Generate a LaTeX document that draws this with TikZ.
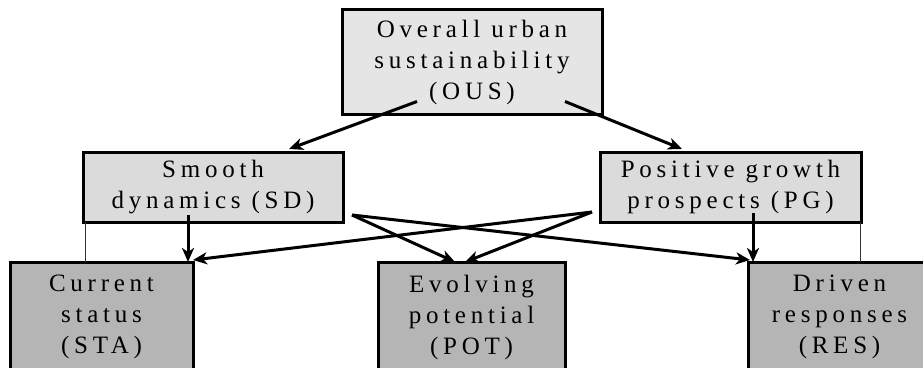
\documentclass[tikz,border=0pt]{standalone}
\usepackage{
    fontspec,
    tikz,
    xcolor}
\usetikzlibrary{arrows.meta}
\newfontfamily\boxfont{Liberation Serif}[LetterSpace=19]
\definecolor{topgray}{gray}{0.90}
\definecolor{midgray}{gray}{0.86}
\definecolor{lowgray}{gray}{0.71}

\begin{document}
\begin{tikzpicture}[x=1pt,y=-1pt]
\tikzset{box/.style={draw,line width=3pt,inner sep=0pt,outer sep=0pt,align=center,
  font=\boxfont\fontsize{25}{31}\selectfont}}
\tikzset{arr/.style={-{Stealth[length=14pt,width=12pt,inset=4pt]},line width=3pt}}
\tikzset{link/.style={line width=1pt,black!80}}
\useasboundingbox (0,0) rectangle (923,367);
\clip (0,0) rectangle (923,367);
% top level
\node[box,fill=topgray,minimum width=260pt,minimum height=105pt] (ous) at (472,62)
  {Overall urban\\sustainability\\(OUS)};
% middle level
\node[box,fill=midgray,minimum width=260pt,minimum height=70pt] (sd) at (213,187)
  {Smooth\\dynamics (SD)};
\node[box,fill=midgray,minimum width=261pt,minimum height=70pt] (pg) at (730.5,187)
  {Positive growth\\prospects (PG)};
% bottom level
\node[box,fill=lowgray,minimum width=183pt,minimum height=110pt] (sta) at (101.5,317)
  {Current\\status\\(STA)};
\node[box,fill=lowgray,minimum width=187pt,minimum height=110pt] (pot) at (471.5,317)
  {Evolving\\potential\\(POT)};
\node[box,fill=lowgray,minimum width=183pt,minimum height=110pt] (res) at (839.5,317)
  {Driven\\responses\\(RES)};
% thin links
\draw[link] ([xshift=2pt]sd.south west) -- ([xshift=2pt]sd.south west |- sta.north);
\draw[link] ([xshift=-1pt]pg.south east) -- ([xshift=-1pt]pg.south east |- res.north);
% arrows
\coordinate (sdout) at ([xshift=9pt,yshift=7pt]sd.south east);
\coordinate (pgout) at ([xshift=-8pt,yshift=10pt]pg.south west);
\draw[arr] ([xshift=-55pt,yshift=13pt]ous.south) -- ([xshift=76pt,yshift=3pt]sd.north);
\draw[arr] ([xshift=93pt,yshift=13pt]ous.south) -- ([xshift=-48.5pt,yshift=3pt]pg.north);
\draw[arr] ([xshift=-25pt,yshift=7pt]sd.south) -- ([xshift=-5pt]sta.north east);
\draw[arr] ([xshift=22.5pt,yshift=9pt]pg.south) -- ([xshift=5pt]res.north west);
\draw[arr] (sdout) -- ([xshift=-16.5pt]pot.north);
\draw[arr] (sdout) -- ([xshift=2pt,yshift=2pt]res.north west);
\draw[arr] (pgout) -- ([yshift=2pt]sta.north east);
\draw[arr] (pgout) -- ([xshift=-6.5pt]pot.north);
\end{tikzpicture}
\end{document}
